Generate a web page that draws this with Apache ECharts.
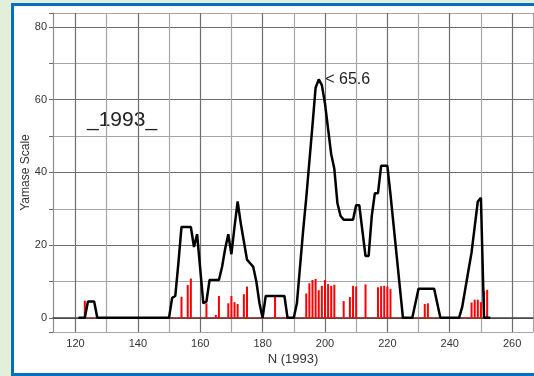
<!DOCTYPE html>
<html>
<head>
<meta charset="utf-8">
<script src="https://cdn.jsdelivr.net/npm/echarts@6/dist/echarts.min.js"></script>
<style>
  body { margin: 0; background: #e2efda; overflow: hidden; }
  #frame { position: absolute; left: 11px; top: 3px; width: 540px; height: 367px; border: 3px solid #0070c0; background: #fff; }
  #main { position: absolute; left: 0; top: 0; width: 534px; height: 376px; }
</style>
</head>
<body>
<div id="frame"></div>
<div id="main"></div>
<script>
// day numbers of the black curve start at 121 and run one per day
const firstDay = 121;
const yamase = [
  0, 0, 0, 4.5, 4.5, 4.5, 0, 0, 0, 0,            // 121-130
  0, 0, 0, 0, 0, 0, 0, 0, 0, 0,                  // 131-140
  0, 0, 0, 0, 0, 0, 0, 0, 0, 0,                  // 141-150
  5.5, 6, 15, 25, 25, 25, 25, 19.5, 23, 13.5,    // 151-160
  4, 4.5, 10.4, 10.4, 10.4, 10.4, 14, 19, 23, 17.5, // 161-170
  25, 32, 26, 21, 16, 15, 14, 10, 4, 0,          // 171-180
  6, 6, 6, 6, 6, 6, 6, 0, 0, 0,                  // 181-190
  4, 14, 24, 33, 43, 53, 63.3, 65.6, 64, 59,     // 191-200
  52, 45, 41, 31.5, 28, 27, 27, 27, 27, 31,      // 201-210
  31, 24, 17, 17, 28, 34.3, 34.3, 41.8, 41.8, 41.8, // 211-220
  34, 25.5, 17, 8.5, 0, 0, 0, 0, 4, 8,           // 221-230
  8, 8, 8, 8, 8, 4, 0, 0, 0, 0,                  // 231-240
  0, 0, 0, 3, 8, 13, 18, 25, 32, 33,             // 241-250
  0, 0, 0                                        // 251-253
];

// red bars
const barDays = [123, 154, 156, 157, 162, 165, 166, 169, 170, 171, 172, 174, 175, 184,
  194, 195, 196, 197, 198, 199, 200, 201, 202, 203, 206, 208, 209, 210, 213,
  217, 218, 219, 220, 221, 232, 233, 247, 248, 249, 250, 251, 252];
const barValues = [4.7, 5.8, 9, 10.8, 4, 0.8, 6, 4, 6, 4.3, 3.8, 6.5, 8.6, 6,
  6.7, 9.5, 10.4, 10.7, 7.6, 8.8, 10.4, 9.3, 8.8, 9.1, 4.6, 5.7, 8.8, 8.6, 9.2,
  8.4, 8.7, 8.8, 8.6, 7.9, 3.8, 4, 4.2, 5, 5, 4.3, 7.4, 7.7];

const xTickLabels = [120, 140, 160, 180, 200, 220, 240, 260];
const yTickLabels = [0, 20, 40, 60, 80];

let myChart = echarts.init(document.getElementById('main'));

const lineData = yamase.map((v, i) => [firstDay + i, v]);
const barData = barDays.map((d, i) => [d, barValues[i]]);
const lastDay = firstDay + yamase.length - 1;

const gridColors = ['#a6a6a6', '#6e6e6e'];

let option = {
  animation: false,
  textStyle: { fontFamily: 'Liberation Sans, Arial, sans-serif' },
  grid: { left: 53, top: 13, right: 1, bottom: 44, outerBoundsMode: 'none', containLabel: false },
  xAxis: {
    type: 'value',
    min: 112.8,
    max: 266.7,
    splitNumber: 15,
    name: 'N (1993)',
    nameLocation: 'middle',
    nameGap: 21,
    nameMoveOverlap: false,
    nameTextStyle: { fontSize: 13, color: '#333' },
    axisLine: { show: true, lineStyle: { color: '#404040', width: 1.5 } },
    axisTick: { show: false },
    axisLabel: {
      fontSize: 11, color: '#333', margin: 6,
      formatter: v => (xTickLabels.indexOf(v) >= 0 ? String(v) : '')
    },
    splitLine: { show: true, lineStyle: { color: gridColors, width: 1.2 } }
  },
  yAxis: {
    type: 'value',
    min: -3.9,
    max: 83.85,
    splitNumber: 9,
    name: 'Yamase Scale',
    nameLocation: 'middle',
    nameGap: 21,
    nameMoveOverlap: false,
    nameTextStyle: { fontSize: 12, color: '#333' },
    axisLine: { show: true, lineStyle: { color: '#8c8c8c' } },
    axisTick: { show: true, length: 4, lineStyle: { color: '#6e6e6e' } },
    axisLabel: {
      fontSize: 11, color: '#333', margin: 6,
      formatter: v => (yTickLabels.indexOf(v) >= 0 ? String(v) : '')
    },
    splitLine: { show: true, lineStyle: { color: gridColors, width: 1.2 } }
  },
  graphic: [{
    type: 'text',
    left: 87,
    top: 110,
    style: { text: '_1993_', fontSize: 21, fill: '#222', fontFamily: 'Liberation Sans, Arial, sans-serif' }
  }],
  series: [
    {
      name: 'baseline',
      type: 'line',
      data: [[firstDay, 0], [lastDay, 0]],
      symbol: 'none',
      lineStyle: { color: '#ff0000', width: 1, type: 'dotted' },
      z: 1
    },
    {
      name: 'rain',
      type: 'bar',
      data: barData,
      barWidth: 2,
      itemStyle: { color: '#ff0000' },
      z: 2
    },
    {
      name: 'Yamase',
      type: 'line',
      data: lineData,
      symbol: 'none',
      lineStyle: { color: '#000', width: 2.5 },
      z: 3,
      markPoint: {
        symbol: 'circle',
        symbolSize: 1,
        itemStyle: { color: 'rgba(0,0,0,0)' },
        label: {
          show: true,
          position: 'right',
          distance: 6,
          fontSize: 16,
          color: '#222',
          formatter: p => '< ' + p.value
        },
        data: [{ type: 'max' }]
      }
    }
  ]
};

myChart.setOption(option);
</script>
</body>
</html>
